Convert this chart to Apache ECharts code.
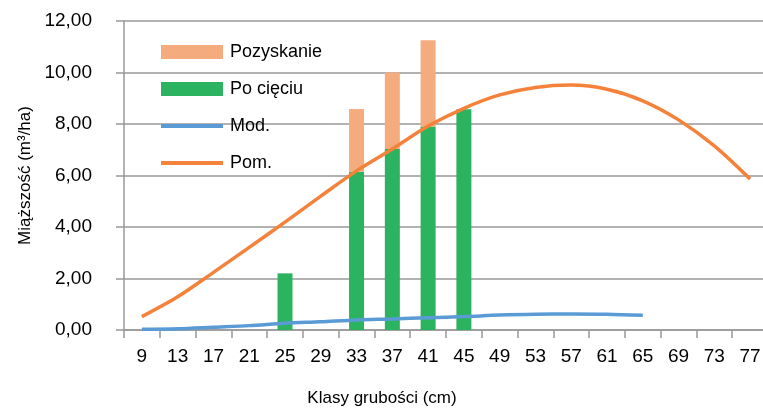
<!DOCTYPE html>
<html>
<head>
<meta charset="utf-8">
<script src="https://cdn.jsdelivr.net/npm/echarts@6/dist/echarts.min.js"></script>
<style>
  html, body { margin: 0; padding: 0; background: #fff; }
  #chart { width: 763px; height: 409px; }
</style>
</head>
<body>
<div id="chart"></div>
<script>
// klasy grubości
let classes = ['9', '13', '17', '21', '25', '29', '33', '37', '41', '45', '49', '53', '57', '61', '65', '69', '73', '77'];
// po cięciu (zielone słupki)
let poCieciu = [null, null, null, null, 2.20, null, 6.15, 7.03, 7.90, 8.57, null, null, null, null, null, null, null, null];
// pozyskanie (na górze stosu)
let pozyskanie = [null, null, null, null, null, null, 2.43, 2.97, 3.35, null, null, null, null, null, null, null, null, null];
// model
let mod = [0.03, 0.05, 0.11, 0.17, 0.26, 0.32, 0.39, 0.43, 0.48, 0.52, 0.58, 0.61, 0.62, 0.61, 0.57, null, null, null];
// pomiar
let pom = [0.52, 1.29, 2.24, 3.21, 4.19, 5.20, 6.18, 7.03, 7.92, 8.61, 9.13, 9.42, 9.51, 9.35, 8.90, 8.16, 7.15, 5.86];

let font = '"Liberation Sans", Arial, sans-serif';
let lineIcon = 'path://M0,0H62V4H0Z';

let chartDom = document.getElementById('chart');
let myChart = echarts.init(chartDom);

let option = {
    animation: false,
    textStyle: { fontFamily: font },
    grid: {
        left: 124,
        top: 21,
        width: 644,
        height: 309,
        containLabel: false,
        outerBoundsMode: 'none'
    },
    legend: {
        orient: 'vertical',
        left: 156,
        top: 38,
        itemWidth: 62,
        itemHeight: 14,
        itemGap: 19,
        symbolKeepAspect: true,
        textStyle: { fontFamily: font, fontSize: 18, color: '#000', padding: [0, 0, 0, 2] },
        data: [
            { name: 'Pozyskanie', icon: 'rect' },
            { name: 'Po cięciu', icon: 'rect' },
            { name: 'Mod.', icon: lineIcon },
            { name: 'Pom.', icon: lineIcon }
        ]
    },
    xAxis: {
        type: 'category',
        data: classes,
        name: 'Klasy grubości (cm)',
        nameLocation: 'middle',
        nameGap: 60,
        nameTextStyle: { fontFamily: font, fontSize: 17, color: '#000', padding: [0, 128, 0, 0] },
        axisLine: { lineStyle: { color: '#999', width: 1.5 } },
        axisTick: { show: true, length: 8, lineStyle: { color: '#999', width: 1.5 } },
        axisLabel: { fontFamily: font, fontSize: 19, color: '#000', margin: 17 }
    },
    yAxis: {
        type: 'value',
        min: 0,
        max: 12,
        interval: 2,
        name: 'Miąższość (m³/ha)',
        nameLocation: 'middle',
        nameGap: 88,
        nameTextStyle: { fontFamily: font, fontSize: 17, color: '#000' },
        axisLine: { show: true, lineStyle: { color: '#999', width: 1.5 } },
        axisTick: { show: true, length: 8, lineStyle: { color: '#999', width: 1.5 } },
        axisLabel: {
            fontFamily: font, fontSize: 19, color: '#000', margin: 32,
            formatter: function (v) { return v.toFixed(2).replace('.', ','); }
        },
        splitLine: { lineStyle: { color: '#999', width: 1.5 } }
    },
    series: [
        {
            name: 'Po cięciu',
            type: 'bar',
            stack: 'ciecie',
            barWidth: 15,
            data: poCieciu,
            itemStyle: { color: '#2bb35f' }
        },
        {
            name: 'Pozyskanie',
            type: 'bar',
            stack: 'ciecie',
            barWidth: 15,
            data: pozyskanie,
            itemStyle: { color: '#f4ab7e' }
        },
        {
            name: 'Mod.',
            type: 'line',
            data: mod,
            symbol: 'none',
            smooth: 0.3,
            itemStyle: { color: '#5b9bd5' },
            lineStyle: { color: '#5b9bd5', width: 3.5 }
        },
        {
            name: 'Pom.',
            type: 'line',
            data: pom,
            symbol: 'none',
            smooth: 0.3,
            itemStyle: { color: '#f4823a' },
            lineStyle: { color: '#f4823a', width: 3.5 }
        }
    ]
};

myChart.setOption(option);

window.addEventListener('resize', () => {
    myChart.resize();
});
</script>
</body>
</html>
